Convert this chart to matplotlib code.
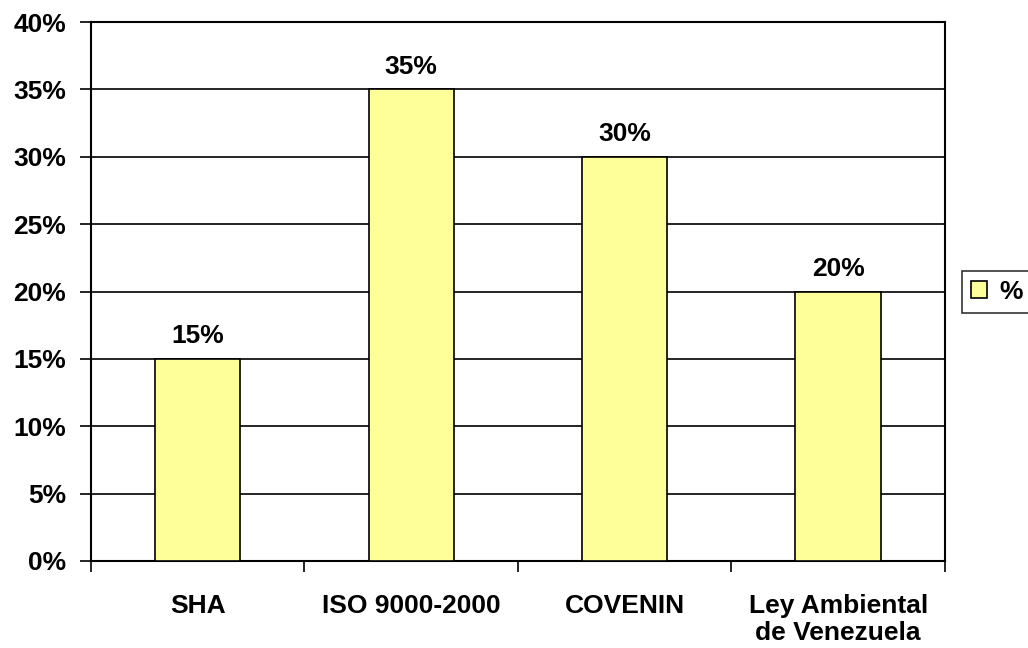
import numpy as np
import matplotlib
matplotlib.use('Agg')
import matplotlib.pyplot as plt
from matplotlib.ticker import MultipleLocator, FuncFormatter

# Chart data
categories = ['SHA', 'ISO 9000-2000', 'COVENIN', 'Ley Ambiental\nde Venezuela']
values = [15, 35, 30, 20]
series_name = '%'

plt.rcParams['font.family'] = ['Liberation Sans', 'DejaVu Sans']
plt.rcParams['font.weight'] = 'bold'
FS = 19

fig = plt.figure(figsize=(10.28, 6.48), dpi=100)
ax = fig.add_axes([0.0885, 0.1343, 0.8307, 0.8317])

x = np.arange(len(categories))
bars = ax.bar(x, values, width=0.4, color='#FFFF99', edgecolor='black',
              linewidth=1.2, label=series_name, zorder=3)

for xi, v in zip(x, values):
    ax.text(xi, v + 0.8, '%d%%' % v, ha='center', va='bottom',
            fontsize=FS, fontweight='bold')

ax.set_xlim(-0.5, len(categories) - 0.5)
ax.set_ylim(0, 40)
ax.yaxis.set_major_locator(MultipleLocator(5))
ax.yaxis.set_major_formatter(FuncFormatter(lambda v, p: '%d%%' % v))
ax.grid(axis='y', color='black', linewidth=1.2, zorder=0)

# category boundary ticks on x
ax.set_xticks(np.arange(-0.5, len(categories), 1.0))
ax.set_xticklabels([])
ax.set_xticks(x, minor=True)
ax.set_xticklabels(categories, minor=True, fontsize=FS, fontweight='bold',
                   linespacing=1.15)
ax.tick_params(axis='x', which='minor', length=0, pad=24)
ax.tick_params(axis='x', which='major', direction='out', length=8, width=1.2)
ax.tick_params(axis='y', direction='out', length=8, width=1.2,
               labelsize=FS, pad=10)
for lab in ax.get_yticklabels():
    lab.set_fontweight('bold')

for s in ax.spines.values():
    s.set_linewidth(1.5)
    s.set_color('black')

leg = fig.legend(handles=[bars], labels=[series_name], loc='upper left',
                 bbox_to_anchor=(0.936, 0.582), borderaxespad=0,
                 frameon=True, fancybox=False, edgecolor='black',
                 fontsize=FS, handlelength=0.6, handleheight=0.6,
                 handletextpad=0.45, borderpad=0.35)
leg.get_frame().set_linewidth(1.2)
for t in leg.get_texts():
    t.set_fontweight('bold')

fig.savefig('out.png', dpi=100)
